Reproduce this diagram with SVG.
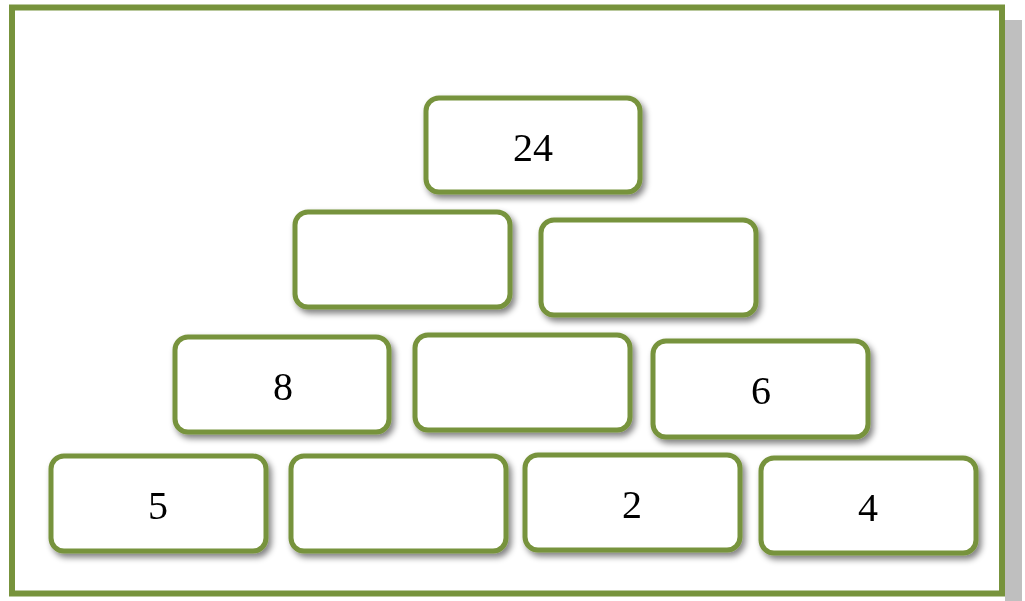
<svg xmlns="http://www.w3.org/2000/svg" width="1025" height="601" viewBox="0 0 1025 601">
<defs>
<filter id="sh" x="-10%" y="-10%" width="130%" height="140%">
<feGaussianBlur in="SourceAlpha" stdDeviation="3"/>
<feOffset dx="3" dy="4" result="b"/>
<feComponentTransfer><feFuncA type="linear" slope="0.5"/></feComponentTransfer>
<feMerge><feMergeNode/><feMergeNode in="SourceGraphic"/></feMerge>
</filter>
</defs>
<style>
.box{fill:#ffffff;stroke:#77933c;stroke-width:5}
.t{font-family:"Liberation Serif","Times New Roman",serif;font-size:40px;fill:#000;text-anchor:middle}
</style>
<rect width="1025" height="601" fill="#ffffff"/>
<rect x="1005" y="20" width="17" height="581" fill="#bfbfbf"/>
<rect x="12" y="7.5" width="990" height="586" fill="#ffffff" stroke="#77933c" stroke-width="6"/>
<g id="connectors"></g>
<g id="n24" filter="url(#sh)"><rect class="box" x="426" y="98" width="214" height="94" rx="13"/><text class="t" x="533" y="161">24</text></g>
<g id="r2a" filter="url(#sh)"><rect class="box" x="295" y="212" width="215" height="95" rx="13"/></g>
<g id="r2b" filter="url(#sh)"><rect class="box" x="541" y="220" width="215" height="95" rx="13"/></g>
<g id="n8" filter="url(#sh)"><rect class="box" x="175" y="337" width="214" height="95" rx="13"/><text class="t" x="283" y="400">8</text></g>
<g id="r3b" filter="url(#sh)"><rect class="box" x="415" y="335" width="215" height="95" rx="13"/></g>
<g id="n6" filter="url(#sh)"><rect class="box" x="653" y="341" width="215" height="96" rx="13"/><text class="t" x="761" y="404">6</text></g>
<g id="n5" filter="url(#sh)"><rect class="box" x="51" y="456" width="215" height="95" rx="13"/><text class="t" x="158" y="519">5</text></g>
<g id="r4b" filter="url(#sh)"><rect class="box" x="291" y="456" width="215" height="95" rx="13"/></g>
<g id="n2" filter="url(#sh)"><rect class="box" x="525" y="455" width="215" height="95" rx="13"/><text class="t" x="632" y="518">2</text></g>
<g id="n4" filter="url(#sh)"><rect class="box" x="761" y="458" width="215" height="95" rx="13"/><text class="t" x="868" y="521">4</text></g>
</svg>
